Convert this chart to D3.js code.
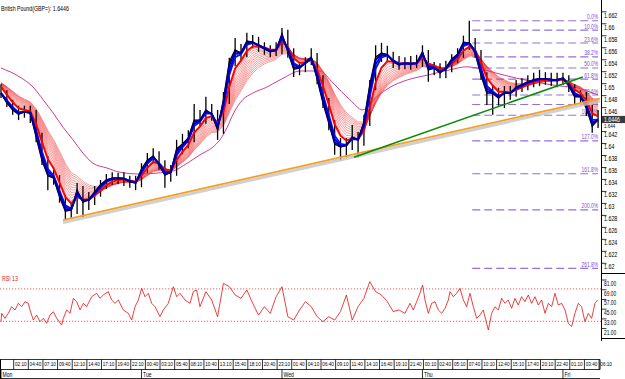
<!DOCTYPE html>
<html><head><meta charset="utf-8">
<script src="https://cdn.jsdelivr.net/npm/d3@7"></script>
<style>body{margin:0;background:#fff}svg{display:block;font-family:"Liberation Sans",Arial,sans-serif}</style>
</head><body><svg id="c" width="625" height="379"></svg>
<script>
// ---------------- DATA ----------------
const title = "British Pound(GBP=): 1.6446";
const lastPrice = 1.6446;
// hourly bars from Mon 00:00
const closes = [1.6490,1.6474,1.6462,1.6455,1.6459,1.6457,1.6417,1.6378,1.6352,1.6348,1.6317,1.6293,1.6295,1.6328,1.6308,1.6312,1.6325,1.6337,1.6345,1.6348,1.6348,1.6347,1.6342,1.6340,1.6363,1.6378,1.6385,1.6370,1.6353,1.6358,1.6397,1.6405,1.6415,1.6445,1.6445,1.6462,1.6455,1.6429,1.6479,1.6542,1.6562,1.6557,1.6577,1.6575,1.6569,1.6564,1.6559,1.6562,1.6589,1.6559,1.6530,1.6532,1.6542,1.6550,1.6514,1.6474,1.6440,1.6405,1.6400,1.6403,1.6417,1.6412,1.6442,1.6504,1.6550,1.6557,1.6554,1.6542,1.6537,1.6540,1.6539,1.6540,1.6559,1.6529,1.6532,1.6524,1.6532,1.6547,1.6555,1.6575,1.6574,1.6557,1.6520,1.6490,1.6490,1.6482,1.6492,1.6490,1.6500,1.6504,1.6509,1.6512,1.6514,1.6514,1.6512,1.6512,1.6515,1.6502,1.6484,1.6484,1.6465,1.6435,1.6446];
const highs = [1.6505,1.6495,1.6479,1.6469,1.6469,1.6469,1.6462,1.6424,1.6385,1.6362,1.6353,1.6320,1.6307,1.6340,1.6335,1.6325,1.6335,1.6345,1.6355,1.6358,1.6357,1.6358,1.6352,1.6352,1.6373,1.6390,1.6398,1.6393,1.6378,1.6370,1.6412,1.6422,1.6428,1.6472,1.6462,1.6484,1.6472,1.6462,1.6492,1.6549,1.6582,1.6572,1.6591,1.6587,1.6584,1.6575,1.6570,1.6575,1.6599,1.6596,1.6565,1.6542,1.6550,1.6565,1.6557,1.6520,1.6482,1.6445,1.6415,1.6415,1.6437,1.6425,1.6454,1.6512,1.6570,1.6574,1.6569,1.6559,1.6552,1.6550,1.6552,1.6554,1.6570,1.6562,1.6542,1.6540,1.6544,1.6555,1.6565,1.6586,1.6611,1.6582,1.6562,1.6525,1.6504,1.6499,1.6502,1.6502,1.6512,1.6515,1.6520,1.6524,1.6529,1.6525,1.6524,1.6524,1.6524,1.6520,1.6505,1.6495,1.6492,1.6470,1.6462];
const lows = [1.6482,1.6467,1.6454,1.6445,1.6449,1.6440,1.6408,1.6370,1.6328,1.6337,1.6307,1.6278,1.6282,1.6288,1.6283,1.6295,1.6303,1.6317,1.6330,1.6337,1.6338,1.6335,1.6332,1.6328,1.6333,1.6357,1.6373,1.6362,1.6332,1.6342,1.6352,1.6388,1.6398,1.6408,1.6434,1.6439,1.6444,1.6412,1.6422,1.6472,1.6535,1.6545,1.6550,1.6565,1.6559,1.6554,1.6550,1.6552,1.6555,1.6549,1.6517,1.6520,1.6525,1.6537,1.6505,1.6465,1.6428,1.6387,1.6378,1.6383,1.6395,1.6383,1.6402,1.6435,1.6495,1.6542,1.6542,1.6532,1.6529,1.6530,1.6529,1.6532,1.6534,1.6509,1.6520,1.6515,1.6515,1.6525,1.6540,1.6549,1.6562,1.6549,1.6512,1.6470,1.6454,1.6469,1.6465,1.6479,1.6484,1.6492,1.6495,1.6500,1.6502,1.6504,1.6502,1.6500,1.6504,1.6492,1.6472,1.6474,1.6452,1.6424,1.6432];
const ribbonSeed = 1.6512;
// long moving average (magenta)
const maHours  = [0,3.2,5.5,7.2,8.9,10.6,12.3,14,15.7,18.1,20.3,23.7,27.2,29.4,31.8,34,36.2,37.4,38.6,39.6,41.3,43,45.4,48.2,51.1,54.5,56.7,59.6,61.8,64.2,66.5,69.4,72.8,76.7,79.6,81.3,84,88.1,92.1,95.5,98.4,100.6,102];
const maValues = [1.6532,1.6517,1.6500,1.6479,1.6457,1.6433,1.6412,1.6390,1.6373,1.6365,1.6358,1.6355,1.6357,1.6360,1.6373,1.6387,1.6400,1.6412,1.6432,1.6454,1.6479,1.6490,1.6500,1.6515,1.6527,1.6527,1.6507,1.6479,1.6462,1.6484,1.6500,1.6512,1.6520,1.6529,1.6534,1.6532,1.6525,1.6515,1.6507,1.6502,1.6499,1.6492,1.6487];
// RSI(13) (hour from Mon 00:00, value)
const rsiHours = [0,0.11,0.68,1.25,1.82,2.39,2.96,3.53,4.1,4.67,4.95,5.52,6.09,6.66,7.23,7.8,8.37,8.94,9.51,10.36,10.65,11.22,11.79,12.36,12.93,13.5,14.06,14.63,15.49,16.34,16.91,17.48,18.33,18.9,19.47,20.04,20.9,21.75,22.32,22.89,23.46,24.03,24.6,25.17,25.74,26.31,27.16,27.73,28.58,29.44,30.01,30.58,31.43,32.29,32.85,33.42,33.99,
  35,36,37,38,39,40,41,42,43,44,45,46,47,48,49,50,51,52,53,54,55,56,57,58,59,60,61,62,63,64,65,66,67,68,69,
  69.87,70.44,71.0,71.57,72.03,72.43,73.0,73.57,74.14,74.71,75.28,75.85,76.42,76.7,77.27,77.84,78.41,78.98,79.55,80.12,80.69,81.26,81.83,82.39,82.96,83.25,83.82,84.39,84.96,85.53,86.1,86.66,87.23,87.8,88.37,88.94,89.51,90.08,90.65,91.22,91.79,92.36,92.93,93.5,94.07,94.64,95.21,95.78,96.35,96.92,97.48,98.05,98.62,99.19,99.76,100.33,100.9,101.47,101.93];
const rsiValues = [29.5,39.9,33.7,39.9,48,44,52.2,48,54.2,52.2,44,31.6,37.8,29.5,33.7,27.5,37.8,41.9,33.7,25.4,33.7,44,39.9,58.4,54.2,44,52.2,48,60.4,64.6,58.4,62.5,66.6,56.3,52.2,56.3,44,39.9,31.6,48,56.3,70.7,60.4,64.6,52.2,48,35.7,44,52.2,72.7,60.4,64.6,56.3,52.2,66.6,68.7,48,
  66.6,56.3,35.7,76.9,72.8,62.5,58.4,68.7,52.2,37.7,48.1,39.8,60.4,72.8,35.7,31.6,44,54.3,48.1,35.7,29.6,35.7,31.6,42,62.5,31.6,48.1,58.4,78.9,66.6,62.5,54.3,42,44,39.8,
  52.2,44,54.2,64.6,74.8,56.3,39.9,52.2,54.2,44,39.9,46,56.3,66.6,60.4,64.6,70.7,56.3,48,64.6,48,33.7,37.8,44,27.5,19.3,39.9,48,44,58.4,52.2,56.3,46,58.4,50.1,60.4,54.2,62.5,52.2,60.4,50.1,56.3,39.9,52.2,48,64.6,50.1,52.2,44,27.5,23.4,39.9,52.2,48,29.5,39.9,33.7,52.2,56.3];
const rsiLevels = [70, 30];
const rsiTicks = [81, 69, 57, 45, 33, 21];
const priceTicks = [1.662,1.66,1.658,1.656,1.654,1.652,1.65,1.648,1.646,1.644,1.642,1.64,1.638,1.636,1.634,1.632,1.63,1.628,1.626,1.624,1.622,1.62];
const timeLabels = ["02:10","04:40","07:10","09:40","12:10","14:40","17:10","19:40","22:10","00:40","03:10","05:40","08:10","10:40","13:10","15:40","18:10","20:40","23:10","01:40","04:10","06:40","09:10","11:40","14:10","16:40","19:10","21:40","00:10","02:40","05:10","07:40","10:10","12:40","15:10","17:40","20:10","22:40","01:10","03:40","06:10"];
const dayLabels = ["Mon","Tue","Wed","Thu","Fri"];
const fibLevels = [0,10,23.6,38.2,50,61.8,78.6,88.6,100,127,161.8,200,261.8];
const fibLabels = ["0.0%","10.0%","23.6%","38.2%","50.0%","61.8%","78.6%","88.6%","100.0%","127.0%","161.8%","200.0%","261.8%"];
const fibHigh = 1.6611, fibLow = 1.6453, fibStartHour = 80.5, fibEndHour = 102;
const orangeTrend = [[10.6, 1.6278], [102.3, 1.6481]];
const greenTrend  = [[60.3, 1.6383], [99.4, 1.6517]];

// ---------------- SCALES ----------------
const svg = d3.select("#c");
const x = d3.scaleLinear().domain([0, 102.5]).range([1, 601]);
const y = d3.scaleLinear().domain([1.62, 1.662]).range([266.8, 15.3]);
const yr = d3.scaleLinear().domain([21, 81]).range([328.6, 280]);

function squeeze(sel, f){ sel.each(function(){ const w=this.getComputedTextLength(); d3.select(this).attr("textLength", w*f).attr("lengthAdjust","spacingAndGlyphs"); }); }
function ema(arr, n, seed){ const a = 2/(n+1); let e = seed===undefined ? arr[0] : seed; return arr.map(v => (e = e + a*(v-e))); }
const defs = svg.append("defs");
defs.append("clipPath").attr("id","belowBox").append("rect").attr("x",601).attr("y",y(lastPrice)+3.6).attr("width",24).attr("height",20);

// title
svg.append("text").attr("x",1).attr("y",10.5).attr("font-size",7.2).attr("fill","#000").text(title).call(squeeze,0.73);

// fib levels
const fg = svg.append("g");
fibLevels.forEach((l,i)=>{
  const p = fibHigh - l/100*(fibHigh-fibLow);
  fg.append("line").attr("x1",x(fibStartHour)).attr("x2",x(fibEndHour)).attr("y1",y(p)).attr("y2",y(p))
    .attr("stroke","#9370DB").attr("stroke-width",1.1).attr("stroke-dasharray","8,4");
  fg.append("text").attr("x",x(fibEndHour)).attr("y",y(p)-1.5).attr("text-anchor","end").attr("font-size",6.5)
    .attr("fill","#7a52d0").text(fibLabels[i]).call(squeeze,0.75);
});

// price layer
const idx = d3.range(closes.length);
const pg = svg.append("g");
const ln = d3.line().x((d,i)=>x(idx[i])).y(d=>y(d));
// magenta long MA
pg.append("path").datum(maHours.map((h,i)=>[h,maValues[i]]))
  .attr("d", d3.line().x(d=>x(d[0])).y(d=>y(d[1])).curve(d3.curveMonotoneX))
  .attr("fill","none").attr("stroke","#d03c8c").attr("stroke-width",1);
// red ribbon (fine)
const fine = [3.5,4,4.5,5,5.5,6,6.5,7,7.5,8,8.5,9];
fine.forEach(n=>{
  pg.append("path").datum(ema(closes, n, ribbonSeed)).attr("d", ln)
    .attr("fill","none").attr("stroke","#f03a3a").attr("stroke-opacity",0.7).attr("stroke-width",0.7);
});
// bars: sticks
pg.selectAll(".bar").data(idx).join("line").attr("x1",i=>x(i)).attr("x2",i=>x(i))
  .attr("y1",i=>y(highs[i])).attr("y2",i=>y(lows[i])).attr("stroke","#000").attr("stroke-width",1.3);
pg.append("path").datum(closes).attr("d", ln).attr("fill","none").attr("stroke","#000").attr("stroke-width",1.4);
// red thick
pg.append("path").datum(ema(closes,3,ribbonSeed)).attr("d", ln)
  .attr("fill","none").attr("stroke","#ff0000").attr("stroke-width",2);
// blue fast group
[[1.8,"#1515d0"],[1.5,"#0000ff"],[1.2,"#000090"]].forEach(([n,c])=>{
  pg.append("path").datum(ema(closes,n)).attr("d", ln)
    .attr("fill","none").attr("stroke",c).attr("stroke-width",1.8);
});

// trendlines
const tl = d3.line().x(d=>x(d[0])).y(d=>y(d[1]));
svg.append("path").datum(orangeTrend).attr("d",tl).attr("transform","translate(0,2.5)")
  .attr("stroke","#c4c4c4").attr("stroke-width",3).attr("stroke-opacity",0.8).attr("fill","none");
svg.append("path").datum(orangeTrend).attr("d",tl).attr("stroke","#f5a020").attr("stroke-width",1.8).attr("fill","none");
svg.append("path").datum(greenTrend).attr("d",tl).attr("stroke","#0a8a0a").attr("stroke-width",1.6).attr("fill","none");

// price axis
const ax = svg.append("g");
ax.append("line").attr("x1",601.5).attr("x2",601.5).attr("y1",0).attr("y2",341).attr("stroke","#000");
priceTicks.forEach(v=>{
  const hidden = Math.abs(y(v)-y(lastPrice)) < 5;
  ax.append("line").attr("x1",601.5).attr("x2",606.5).attr("y1",y(v)-3.5).attr("y2",y(v)-3.5).attr("stroke","#000").attr("stroke-width",0.8);
  const t = ax.append("text").attr("x",604).attr("y",y(v)+2.4).attr("font-size",hidden?5.5:6.5).text(String(v)).call(squeeze,0.82);
  if (hidden) t.attr("clip-path","url(#belowBox)").attr("y",y(v)+5);
});
ax.append("rect").attr("x",602).attr("y",y(lastPrice)-3.6).attr("width",23).attr("height",7.2).attr("fill","#3a3a3a");
ax.append("text").attr("x",604).attr("y",y(lastPrice)+2.4).attr("font-size",6.5).attr("fill","#fff").text(lastPrice.toFixed(4)).call(squeeze,0.8);
ax.append("line").attr("x1",601.5).attr("x2",625).attr("y1",273.5).attr("y2",273.5).attr("stroke","#000");
ax.append("line").attr("x1",601.5).attr("x2",625).attr("y1",338.5).attr("y2",338.5).attr("stroke","#000");

// RSI panel
const rg = svg.append("g");
rg.append("text").attr("x",2).attr("y",281).attr("font-size",6.5).attr("fill","#e02020").text("RSI 13").call(squeeze,0.8);
rsiLevels.forEach(l=>{
  rg.append("line").attr("x1",0).attr("x2",601).attr("y1",yr(l)).attr("y2",yr(l))
    .attr("stroke","#e05050").attr("stroke-width",0.9).attr("stroke-dasharray","1.2,1.8");
});
rg.append("path").datum(rsiHours.map((h,i)=>[h,rsiValues[i]])).attr("d", d3.line().x(d=>x(d[0])).y(d=>yr(d[1])))
  .attr("fill","none").attr("stroke","#e81010").attr("stroke-width",0.8);
rsiTicks.forEach(v=>{
  rg.append("line").attr("x1",601.5).attr("x2",606.5).attr("y1",yr(v)).attr("y2",yr(v)).attr("stroke","#000").attr("stroke-width",0.8);
  rg.append("text").attr("x",604).attr("y",yr(v)+6).attr("font-size",6.5).text(v.toFixed(2)).call(squeeze,0.75);
});

// time axis
const tg = svg.append("g");
[359.5,369.5,378.5].forEach(yy=>tg.append("line").attr("x1",0).attr("x2",600).attr("y1",yy).attr("y2",yy).attr("stroke","#000").attr("stroke-width",0.8));
tg.append("line").attr("x1",0.5).attr("x2",0.5).attr("y1",359.5).attr("y2",379).attr("stroke","#000");
tg.append("line").attr("x1",600).attr("x2",600).attr("y1",359.5).attr("y2",369.5).attr("stroke","#000");
timeLabels.forEach((s,k)=>{
  const t = 2 + 10/60 + 2.5*k, xx = x(t);
  if (xx < 600) tg.append("line").attr("x1",xx).attr("x2",xx).attr("y1",359.5).attr("y2",369.5).attr("stroke","#000").attr("stroke-width",0.8);
  tg.append("text").attr("x",xx+1.3).attr("y",366.4).attr("font-size",5.8).text(s).call(squeeze,0.8);
});
dayLabels.forEach((s,k)=>{
  const xx = x(24*k);
  tg.append("line").attr("x1",xx).attr("x2",xx).attr("y1",369.5).attr("y2",379).attr("stroke","#000").attr("stroke-width",0.8);
  tg.append("text").attr("x",xx+1.5).attr("y",376.6).attr("font-size",6.5).text(s).call(squeeze,0.78);
});
</script></body></html>
